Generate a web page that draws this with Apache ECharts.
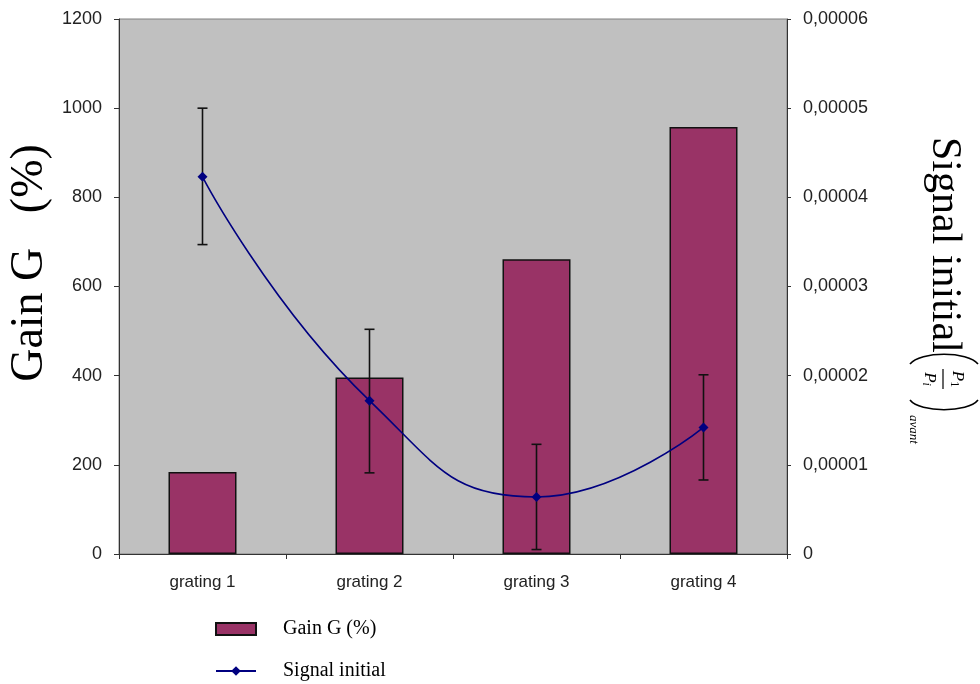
<!DOCTYPE html>
<html>
<head>
<meta charset="utf-8">
<script src="https://cdn.jsdelivr.net/npm/echarts@6/dist/echarts.min.js"></script>
<style>html,body{margin:0;padding:0;background:#fff}#c{width:980px;height:684px}</style>
</head>
<body>
<div id="c"></div>
<script>
const categories = ['grating 1', 'grating 2', 'grating 3', 'grating 4'];
const gainValues = [184, 396, 661, 958];
const signalValues = [0.0000423, 0.0000172, 0.0000064, 0.0000142];
const signalErrLow = [0.0000347, 0.0000091, 0.0000005, 0.0000083];
const signalErrHigh = [0.0000500, 0.0000252, 0.0000123, 0.0000201];
const leftTicks = { min: 0, max: 1200, interval: 200 };
const rightTicks = { min: 0, max: 0.00006, interval: 0.00001 };

const errData = categories.map((c, i) => [i, signalErrLow[i], signalErrHigh[i]]);

const chart = echarts.init(document.getElementById('c'), null, { renderer: 'canvas' });
const sans = 'Liberation Sans, Arial, sans-serif';
const serif = 'Liberation Serif, Times New Roman, serif';

const legendBase = {
  itemWidth: 40, itemHeight: 12,
  textStyle: { fontFamily: serif, fontSize: 20, color: '#000', padding: [0, 0, 0, 22] }
};

chart.setOption({
  animation: false,
  backgroundColor: '#ffffff',
  grid: {
    left: 119, right: 193, top: 19, bottom: 130,
    show: true, backgroundColor: '#C0C0C0', borderColor: '#808080', borderWidth: 1
  },
  legend: [
    Object.assign({}, legendBase, { left: 210, top: 614, data: [{ name: 'Gain G (%)', icon: 'rect' }] }),
    Object.assign({}, legendBase, { left: 210, top: 656, data: [{ name: 'Signal initial' }] })
  ],
  xAxis: {
    type: 'category',
    data: categories,
    axisLine: { lineStyle: { color: '#333', width: 1 } },
    axisTick: { show: true, length: 5, lineStyle: { color: '#333' } },
    axisLabel: { fontFamily: sans, fontSize: 17, color: '#222', margin: 20 }
  },
  yAxis: [
    {
      type: 'value', min: leftTicks.min, max: leftTicks.max, interval: leftTicks.interval,
      position: 'left',
      splitLine: { show: false },
      axisLine: { show: true, lineStyle: { color: '#333' } },
      axisTick: { show: true, length: 5, lineStyle: { color: '#333' } },
      axisLabel: { fontFamily: sans, fontSize: 18, color: '#222', margin: 17, formatter: v => String(v) }
    },
    {
      type: 'value', min: rightTicks.min, max: rightTicks.max, interval: rightTicks.interval,
      position: 'right',
      splitLine: { show: false },
      axisLine: { show: true, lineStyle: { color: '#333' } },
      axisTick: { show: true, length: 4, lineStyle: { color: '#333' } },
      axisLabel: {
        fontFamily: sans, fontSize: 18, color: '#222', margin: 16,
        formatter: v => (Math.abs(v) < 1e-12 ? '0' : v.toFixed(5).replace('.', ','))
      }
    }
  ],
  series: [
    {
      name: 'Gain G (%)',
      type: 'bar',
      yAxisIndex: 0,
      data: gainValues,
      barWidth: 68,
      itemStyle: { color: '#993366', borderColor: '#111', borderWidth: 1.5 }
    },
    {
      name: 'Signal initial',
      type: 'line',
      yAxisIndex: 1,
      data: signalValues,
      smooth: 0.5,
      symbol: 'diamond',
      symbolSize: 10,
      lineStyle: { color: '#000080', width: 1.6 },
      itemStyle: { color: '#000080' },
      z: 4
    },
    {
      name: 'err',
      type: 'custom',
      yAxisIndex: 1,
      data: errData,
      encode: { x: 0, y: [1, 2] },
      z: 3,
      renderItem: function (params, api) {
        const i = api.value(0);
        const lo = api.coord([i, api.value(1)]);
        const hi = api.coord([i, api.value(2)]);
        const x = lo[0];
        const cap = 5;
        const st = { stroke: '#111', lineWidth: 1.6 };
        return {
          type: 'group',
          children: [
            { type: 'line', shape: { x1: x, y1: lo[1], x2: x, y2: hi[1] }, style: st },
            { type: 'line', shape: { x1: x - cap, y1: lo[1], x2: x + cap, y2: lo[1] }, style: st },
            { type: 'line', shape: { x1: x - cap, y1: hi[1], x2: x + cap, y2: hi[1] }, style: st }
          ]
        };
      }
    }
  ],
  graphic: [
    {
      type: 'text', x: 30, y: 263, rotation: Math.PI / 2,
      style: { text: 'Gain G   (%)', fontFamily: serif, fontSize: 46, fill: '#000', align: 'center', verticalAlign: 'middle' }
    },
    {
      type: 'group', x: 944, y: 137, rotation: -Math.PI / 2,
      children: [
        { type: 'text', x: 0, y: 0, style: { text: 'Signal initial', fontFamily: serif, fontSize: 42, fill: '#000', align: 'left', verticalAlign: 'middle' } },
        { type: 'bezierCurve', shape: { x1: 227, y1: -34, cpx1: 214, cpy1: -24, cpx2: 214, cpy2: 24, x2: 227, y2: 34 }, style: { stroke: '#000', lineWidth: 1.6, fill: null } },
        { type: 'bezierCurve', shape: { x1: 263, y1: -34, cpx1: 276, cpy1: -24, cpx2: 276, cpy2: 24, x2: 263, y2: 34 }, style: { stroke: '#000', lineWidth: 1.6, fill: null } },
        { type: 'line', shape: { x1: 232, y1: 1, x2: 252, y2: 1 }, style: { stroke: '#000', lineWidth: 1.2 } },
        { type: 'text', x: 242, y: -13, style: { text: 'P{s|1}', fontFamily: serif, fontStyle: 'italic', fontSize: 17, fill: '#000', align: 'center', verticalAlign: 'middle', rich: { s: { fontFamily: serif, fontSize: 12, verticalAlign: 'bottom', fill: '#000' } } } },
        { type: 'text', x: 242, y: 15, style: { text: 'P{s|i}', fontFamily: serif, fontStyle: 'italic', fontSize: 17, fill: '#000', align: 'center', verticalAlign: 'middle', rich: { s: { fontFamily: serif, fontStyle: 'italic', fontSize: 12, verticalAlign: 'bottom', fill: '#000' } } } },
        { type: 'text', x: 278, y: 31, style: { text: 'avant', fontFamily: serif, fontStyle: 'italic', fontSize: 13, fill: '#000', align: 'left', verticalAlign: 'middle' } }
      ]
    }
  ]
});
</script>
</body>
</html>
